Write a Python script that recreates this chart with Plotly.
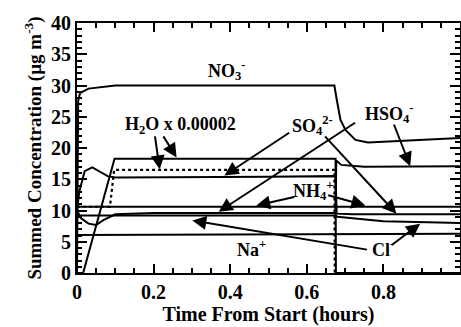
import plotly.graph_objects as go

# ---- data ----
no3_x = [0, 0.003, 0.008, 0.03, 0.1, 0.4, 0.672, 0.678, 0.688, 0.701, 0.727, 0.76, 0.85, 1.0]
no3_y = [0, 27.5, 28.8, 29.5, 30.0, 30.0, 30.0, 27.8, 24.5, 22.9, 21.3, 20.9, 21.2, 21.6]

h2o_x = [0, 0.016, 0.098, 0.4, 0.675, 0.676, 1.0]
h2o_y = [0, 0, 18.3, 18.3, 18.3, 0, 0]

h2o_dot_x = [0, 0.086, 0.097, 0.4, 0.672, 0.673, 1.0]
h2o_dot_y = [10.6, 10.6, 16.5, 16.5, 16.5, 0, 0]

so4_x = [0, 0.006, 0.02, 0.04, 0.06, 0.08, 0.1, 0.3, 0.5, 0.675, 0.678, 0.72, 1.0]
so4_y = [10.0, 13.0, 16.3, 16.9, 16.2, 15.5, 15.3, 15.3, 15.4, 15.5, 9.5, 9.4, 9.4]

hso4_x = [0, 0.01, 0.03, 0.05, 0.07, 0.1, 0.2, 0.675, 0.677, 0.69, 0.75, 1.0]
hso4_y = [10.0, 8.8, 7.9, 7.7, 8.5, 9.4, 9.6, 9.6, 18.0, 17.3, 17.0, 17.1]

nh4_x = [0, 0.5, 1.0]
nh4_y = [10.6, 10.6, 10.6]

cl_x = [0, 0.1, 0.675, 0.68, 0.72, 0.8, 1.0]
cl_y = [9.2, 9.2, 9.2, 9.0, 8.8, 8.3, 8.0]

na_x = [0, 0.5, 1.0]
na_y = [6.1, 6.2, 6.3]

x_tickvals = [0, 0.2, 0.4, 0.6, 0.8]
x_ticktext = ["0", "0.2", "0.4", "0.6", "0.8"]
y_tickvals = [0, 5, 10, 15, 20, 25, 30, 35, 40]

FONT = "Liberation Serif"

fig = go.Figure()
solid = dict(color="black", width=2)
for xs, ys, nm in [(no3_x, no3_y, "NO3-"), (h2o_x, h2o_y, "H2O"),
                   (so4_x, so4_y, "SO4 2-"), (hso4_x, hso4_y, "HSO4-"),
                   (nh4_x, nh4_y, "NH4+"), (cl_x, cl_y, "Cl-"), (na_x, na_y, "Na+")]:
    fig.add_trace(go.Scatter(x=xs, y=ys, mode="lines", line=solid, name=nm, showlegend=False))
fig.add_trace(go.Scatter(x=h2o_dot_x, y=h2o_dot_y, mode="lines",
                         line=dict(color="black", width=2.2, dash="dot"),
                         name="H2O (dotted)", showlegend=False))
# invisible trace so the mirrored (top/right) tick axes get drawn
fig.add_trace(go.Scatter(x=[None], y=[None], xaxis="x2", yaxis="y2",
                         showlegend=False, hoverinfo="skip"))

lab_font = dict(family=FONT, size=18, color="black", weight="bold")
labels = [
    (0.392, 32.4, "NO<sub>3</sub><sup>-</sup>"),
    (0.27, 23.6, "H<sub>2</sub>O x 0.00002"),
    (0.615, 23.6, "SO<sub>4</sub><sup>2-</sup>"),
    (0.815, 25.6, "HSO<sub>4</sub><sup>-</sup>"),
    (0.615, 13.2, "NH<sub>4</sub><sup>+</sup>"),
    (0.455, 3.9, "Na<sup>+</sup>"),
    (0.80, 3.9, "Cl<sup>-</sup>"),
]
for x, y, t in labels:
    fig.add_annotation(x=x, y=y, text=t, showarrow=False, font=lab_font)

arrows = [  # (tail_x, tail_y, head_x, head_y)
    (0.203, 22.1, 0.216, 16.6),
    (0.223, 22.1, 0.26, 18.5),
    (0.558, 22.6, 0.385, 15.6),
    (0.644, 22.1, 0.834, 9.5),
    (0.73, 24.2, 0.37, 9.8),
    (0.826, 24.0, 0.87, 17.1),
    (0.571, 12.2, 0.468, 10.8),
    (0.652, 12.5, 0.753, 10.8),
    (0.761, 3.7, 0.301, 8.4),
    (0.818, 4.3, 0.896, 7.9),
]
for tx, ty, hx, hy in arrows:
    fig.add_annotation(x=hx, y=hy, ax=tx, ay=ty, axref="x", ayref="y", xref="x", yref="y",
                       text="", showarrow=True, arrowhead=2, arrowsize=1.4,
                       arrowwidth=2, arrowcolor="black", standoff=0, startstandoff=0)

tick_font = dict(family=FONT, size=20, color="black", weight="bold")
title_font_y = dict(family=FONT, size=19, color="black", weight="bold")
title_font_x = dict(family=FONT, size=20, color="black", weight="bold")

common_x = dict(range=[0, 1.0], tickvals=x_tickvals,
                ticks="inside", ticklen=9, tickwidth=1.5, tickcolor="black",
                minor=dict(dtick=0.05, ticks="inside", ticklen=5, tickwidth=1.5, tickcolor="black"),
                showline=True, linecolor="black", linewidth=2,
                showgrid=False, zeroline=False)
common_y = dict(range=[0, 40], tickvals=y_tickvals,
                ticks="inside", ticklen=10, tickwidth=1.5, tickcolor="black",
                minor=dict(dtick=1, ticks="inside", ticklen=5, tickwidth=1.5, tickcolor="black"),
                showline=True, linecolor="black", linewidth=2,
                showgrid=False, zeroline=False)

fig.update_layout(
    width=461, height=327,
    margin=dict(l=77, r=1, t=23, b=54),
    paper_bgcolor="white", plot_bgcolor="white",
    font=dict(family=FONT, color="black"),
    showlegend=False,
    xaxis=dict(**common_x, ticktext=x_ticktext, tickfont=tick_font,
               title=dict(text="Time From Start (hours)", font=title_font_x, standoff=0)),
    yaxis=dict(**common_y, tickfont=tick_font,
               title=dict(text="Summed Concentration (µg m<sup>-3</sup>)", font=title_font_y, standoff=4)),
    xaxis2=dict(**common_x, overlaying="x", side="top", anchor="y", showticklabels=False),
    yaxis2=dict(**common_y, overlaying="y", side="right", anchor="x", showticklabels=False),
)

fig.write_html("out.html")
